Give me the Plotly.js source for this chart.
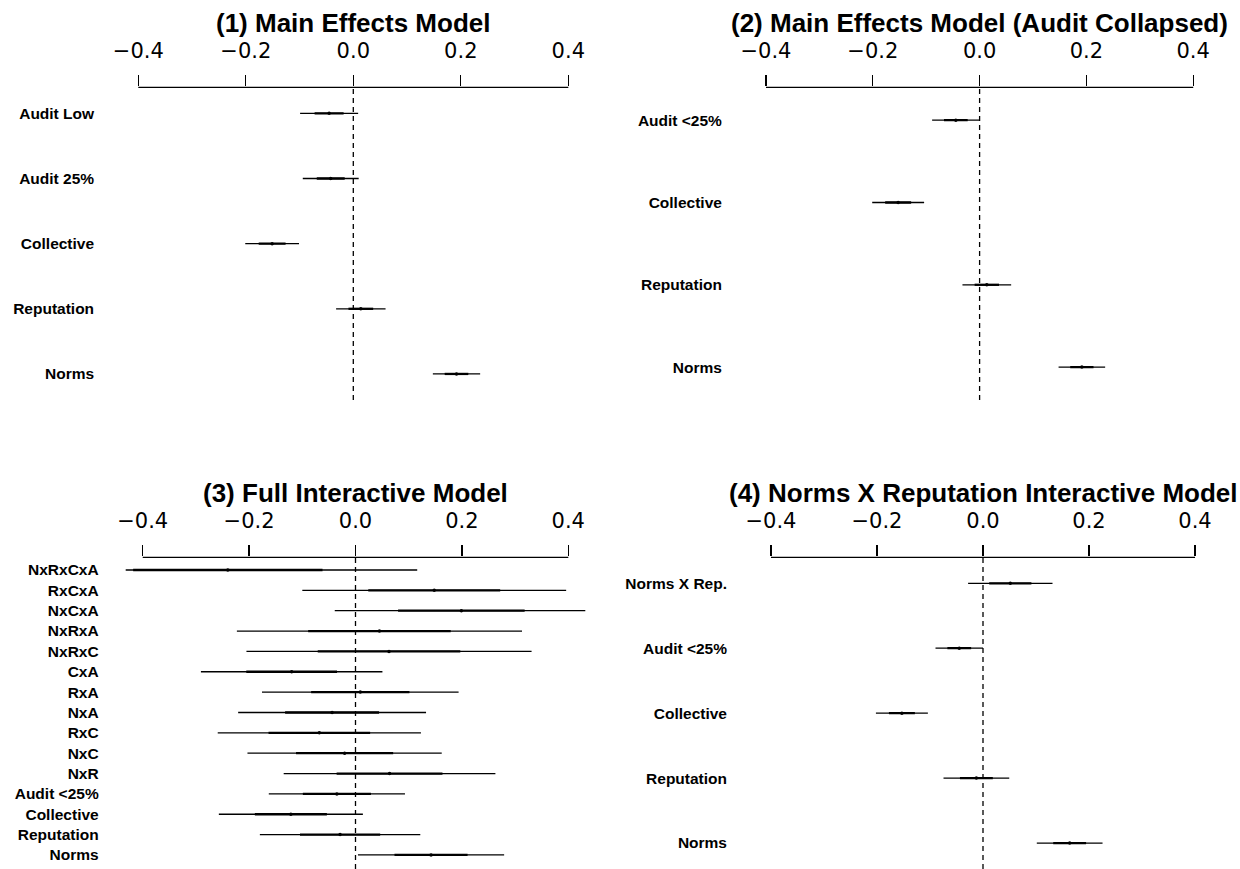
<!DOCTYPE html>
<html>
<head>
<meta charset="utf-8">
<script src="https://cdn.plot.ly/plotly-3.0.1.min.js"></script>
<style>
html,body{margin:0;padding:0;background:#fff;}
#chart{width:1240px;height:869px;}
</style>
</head>
<body>
<div id="chart"></div>
<script>
// ---- Data (coefficient estimates and standard errors) ----
const titles = [
  "(1) Main Effects Model",
  "(2) Main Effects Model (Audit Collapsed)",
  "(3) Full Interactive Model",
  "(4) Norms X Reputation Interactive Model"
];

const p1Labels = ["Audit Low", "Audit 25%", "Collective", "Reputation", "Norms"];
const p1Est = [-0.045, -0.042, -0.151, 0.014, 0.192];
const p1SE  = [0.027, 0.026, 0.025, 0.023, 0.022];

const p2Labels = ["Audit <25%", "Collective", "Reputation", "Norms"];
const p2Est = [-0.0445, -0.1525, 0.0135, 0.1915];
const p2SE  = [0.0222, 0.0243, 0.0228, 0.0218];

const p3Labels = ["NxRxCxA", "RxCxA", "NxCxA", "NxRxA", "NxRxC", "CxA", "RxA", "NxA",
                  "RxC", "NxC", "NxR", "Audit <25%", "Collective", "Reputation", "Norms"];
const p3Est = [-0.240, 0.148, 0.199, 0.045, 0.063, -0.120, 0.009, -0.044,
               -0.068, -0.0205, 0.064, -0.035, -0.1215, -0.029, 0.142];
const p3SE  = [0.178, 0.124, 0.119, 0.134, 0.134, 0.0853, 0.0924, 0.0883,
               0.0955, 0.0913, 0.0995, 0.064, 0.0677, 0.0754, 0.0687];

const p4Labels = ["Norms X Rep.", "Audit <25%", "Collective", "Reputation", "Norms"];
const p4Est = [0.0515, -0.0448, -0.153, -0.0125, 0.1635];
const p4SE  = [0.0398, 0.0224, 0.0245, 0.031, 0.031];

const xTicks = [-0.4, -0.2, 0.0, 0.2, 0.4];
const xTickText = ["\u22120.4", "\u22120.2", "0.0", "0.2", "0.4"];

// ---- Layout geometry (pixels) ----
const W = 1240, H = 869;
const panels = [
  {labels: p1Labels, est: p1Est, se: p1SE, xd: [121.1, 585.5], yd: [87.3, 400], yr: [5.4, 0.6]},
  {labels: p2Labels, est: p2Est, se: p2SE, xd: [748.9, 1210.3], yd: [87.3, 400], yr: [4.4, 0.6]},
  {labels: p3Labels, est: p3Est, se: p3SE, xd: [125.7, 585.3], yd: [557.3, 869], yr: [15.69, 0.376]},
  {labels: p4Labels, est: p4Est, se: p4SE, xd: [754, 1212], yd: [557.3, 869], yr: [5.4, 0.6]}
];
const titleY = [23, 23, 493, 493];

const traces = [];
const layout = {
  width: W, height: H,
  margin: {l: 0, r: 0, t: 0, b: 0},
  paper_bgcolor: "#ffffff",
  plot_bgcolor: "#ffffff",
  showlegend: false,
  hovermode: false,
  shapes: [],
  annotations: []
};

panels.forEach((p, k) => {
  const n = k + 1;
  const xa = "x" + (n === 1 ? "" : n);
  const ya = "y" + (n === 1 ? "" : n);
  const ys = p.labels.map((_, i) => i + 1);
  const thinX = [], thinY = [], thickX = [], thickY = [];
  p.est.forEach((e, i) => {
    thinX.push(e - 2 * p.se[i], e + 2 * p.se[i], null);
    thinY.push(ys[i], ys[i], null);
    thickX.push(e - p.se[i], e + p.se[i], null);
    thickY.push(ys[i], ys[i], null);
  });
  traces.push({type: "scatter", mode: "lines", x: thinX, y: thinY, xaxis: xa, yaxis: ya,
               line: {color: "#000", width: 1.3}, connectgaps: false});
  traces.push({type: "scatter", mode: "lines", x: thickX, y: thickY, xaxis: xa, yaxis: ya,
               line: {color: "#000", width: 2.3}, connectgaps: false});
  traces.push({type: "scatter", mode: "markers", x: p.est, y: ys, xaxis: xa, yaxis: ya,
               marker: {color: "#000", size: 3.5}, cliponaxis: true});

  layout["xaxis" + (n === 1 ? "" : n)] = {
    domain: [p.xd[0] / W, p.xd[1] / W],
    range: [-0.432, 0.432],
    anchor: ya,
    side: "top",
    showgrid: false, zeroline: false, showline: false,
    tickmode: "array", tickvals: xTicks, ticktext: xTickText,
    ticks: "outside", ticklen: 11, tickwidth: 1.3, tickcolor: "#000",
    ticklabelstandoff: 9,
    tickfont: {family: "DejaVu Sans", size: 21, color: "#000"},
    fixedrange: true
  };
  layout["yaxis" + (n === 1 ? "" : n)] = {
    domain: [1 - p.yd[1] / H, 1 - p.yd[0] / H],
    range: p.yr,
    anchor: xa,
    showgrid: false, zeroline: false, showline: false,
    tickmode: "array", tickvals: ys, ticktext: p.labels,
    ticks: "", ticklabelstandoff: 26,
    tickfont: {family: "Liberation Sans, Arial, sans-serif", size: 15.5, color: "#000", weight: "bold"},
    fixedrange: true
  };

  // axis line spanning only the tick range (R style)
  layout.shapes.push({type: "line", xref: xa, yref: ya + " domain",
                      x0: -0.4, x1: 0.4, y0: 1, y1: 1,
                      line: {color: "#000", width: 1.3}});
  // dashed reference line at zero
  layout.shapes.push({type: "line", xref: xa, yref: ya + " domain",
                      x0: 0, x1: 0, y0: 0, y1: 1,
                      line: {color: "#000", width: 1.3, dash: "5px,4px"}});

  layout.annotations.push({
    text: "<b>" + titles[k] + "</b>",
    xref: "paper", yref: "paper",
    x: ((p.xd[0] + p.xd[1]) / 2) / W, y: 1 - titleY[k] / H,
    xanchor: "center", yanchor: "middle", showarrow: false,
    font: {family: "Liberation Sans, Arial, sans-serif", size: 26, color: "#000"}
  });
});

Plotly.newPlot("chart", traces, layout, {staticPlot: true, displayModeBar: false});
</script>
</body>
</html>
